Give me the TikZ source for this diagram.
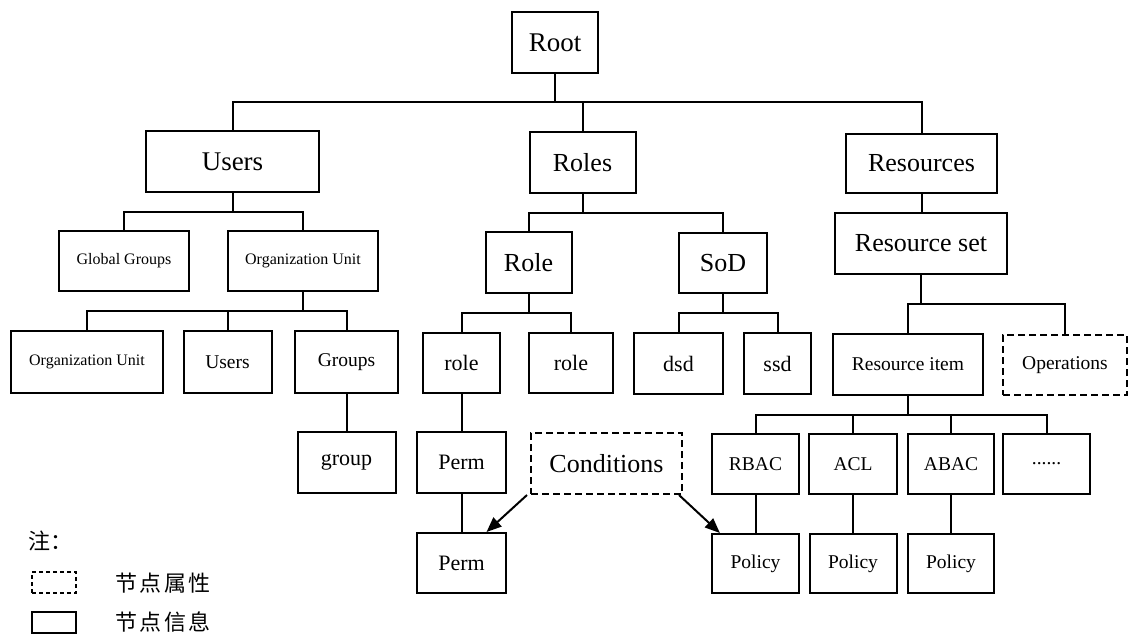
\documentclass[tikz,border=0pt]{standalone}
\usepackage{fontspec}
\setmainfont{Liberation Serif}
\newfontfamily\cjk{Noto Sans CJK SC}
\usetikzlibrary{calc,arrows.meta}

% parent -> junction bar -> child
\newcommand\fork[3]{\draw[link] (#1.south) -- (#1.south |- #2) -| (#3.north);}
\newcommand\cjkgap{\hspace{2.5pt}}

\begin{document}
\begin{tikzpicture}[x=1pt,y=-1pt,
  bx/.style 2 args={draw, line width=2pt, inner sep=0pt, minimum width=#1 pt, minimum height=#2 pt},
  attr/.style={dash pattern=on 7pt off 4pt},
  fhuge/.style={font=\fontsize{27}{32}\selectfont},
  fbig/.style={font=\fontsize{26}{31}\selectfont},
  fmid/.style={font=\fontsize{22}{26}\selectfont},
  fsml/.style={font=\fontsize{19.5}{23}\selectfont},
  ftiny/.style={font=\fontsize{16}{19}\selectfont},
  fcjk/.style={font=\cjk\fontsize{22}{26}\selectfont, inner sep=0pt},
  link/.style={line width=2pt, line join=miter},
  arr/.style={line width=2pt, -{Triangle[length=15pt,width=12pt]}}
]
\useasboundingbox (0,0) rectangle (1130,635);

% ---- top levels ----
\node[bx={86}{61}, fhuge] (root)  at (555,42.5)   {Root};
\node[bx={173}{61}, fhuge] (users) at (232.5,161.5) {Users};
\node[bx={106}{61}, fbig] (roles) at (582.5,162.5) {Roles};
\node[bx={151}{59}, fbig] (res)   at (921.5,163.5) {Resources};

% ---- users branch ----
\node[bx={130}{60}, ftiny] (gg)   at (124,261)   {Global Groups};
\node[bx={150}{60}, ftiny] (ou)   at (303,261)   {Organization Unit};
\node[bx={152}{62}, ftiny] (ou2)  at (87,362)    {Organization Unit};
\node[bx={88}{62},  fsml]  (usr2) at (227.5,362) {Users};
\node[bx={103}{62}, fsml]  (grps) at (346.5,362) {Groups};
\node[bx={98}{61},  fmid]  (grp)  at (346.5,462.5) {group};

% ---- roles branch ----
\node[bx={86}{61}, fbig] (role) at (528.5,262.5) {Role};
\node[bx={88}{60}, fbig] (sod)  at (723,263)     {SoD};
\node[bx={77}{60}, fmid] (r1)   at (461.5,363)   {role};
\node[bx={84}{60}, fmid] (r2)   at (571,363)     {role};
\node[bx={89}{61}, fmid] (dsd)  at (678.5,363.5) {dsd};
\node[bx={67}{61}, fmid] (ssd)  at (777.5,363.5) {ssd};
\node[bx={89}{61}, fmid] (perm1) at (461.5,462.5) {Perm};
\node[bx={89}{60}, fmid] (perm2) at (461.5,563)   {Perm};
\node[bx={151}{61}, fbig, attr] (cond) at (606.5,463.5) {Conditions};

% ---- resources branch ----
\node[bx={172}{61}, fbig] (rset)  at (921,243.5)  {Resource set};
\node[bx={150}{61}, fsml] (ritem) at (908,364.5)  {Resource item};
\node[bx={124}{60}, fsml, attr] (ops) at (1065,365) {Operations};
\node[bx={87}{60}, fsml] (rbac) at (755.5,464)  {RBAC};
\node[bx={88}{60}, fsml] (acl)  at (853,464)    {ACL};
\node[bx={86}{60}, fsml] (abac) at (951,464)    {ABAC};
\node[bx={87}{60}, fsml] (more) at (1046.5,464) {......};
\node[bx={87}{59}, fsml] (pol1) at (755.5,563.5) {Policy};
\node[bx={87}{59}, fsml] (pol2) at (853,563.5)   {Policy};
\node[bx={86}{59}, fsml] (pol3) at (951,563.5)   {Policy};

% ---- junction bars ----
\coordinate (jroot)  at ($(root.south)!0.5!(users.north)$);
\coordinate (jusers) at ($(users.south)!0.5!(gg.north)$);
\coordinate (jou)    at ($(ou.south)!0.5!(ou2.north)$);
\coordinate (jroles) at ($(roles.south)!0.5!(role.north)$);
\coordinate (jrole)  at ($(role.south)!0.5!(r1.north)$);
\coordinate (jsod)   at ($(sod.south)!0.5!(dsd.north)$);
\coordinate (jrset)  at ($(rset.south)!0.5!(ritem.north)$);
\coordinate (jritem) at ($(ritem.south)!0.5!(rbac.north)$);

\fork{root}{jroot}{users}
\fork{root}{jroot}{roles}
\fork{root}{jroot}{res}
\fork{users}{jusers}{gg}
\fork{users}{jusers}{ou}
\fork{ou}{jou}{ou2}
\fork{ou}{jou}{usr2}
\fork{ou}{jou}{grps}
\fork{roles}{jroles}{role}
\fork{roles}{jroles}{sod}
\fork{role}{jrole}{r1}
\fork{role}{jrole}{r2}
\fork{sod}{jsod}{dsd}
\fork{sod}{jsod}{ssd}
\fork{rset}{jrset}{ritem}
\fork{rset}{jrset}{ops}
\fork{ritem}{jritem}{rbac}
\fork{ritem}{jritem}{acl}
\fork{ritem}{jritem}{abac}
\fork{ritem}{jritem}{more}

% ---- straight links ----
\draw[link] (grps.south) -- (grps.south |- grp.north);
\draw[link] (res.south) -- (res.south |- rset.north);
\draw[link] (r1.south) -- (perm1.north);
\draw[link] (perm1.south) -- (perm2.north);
\draw[link] (rbac.south) -- (pol1.north);
\draw[link] (acl.south) -- (pol2.north);
\draw[link] (abac.south) -- (pol3.north);

% ---- condition arrows ----
\draw[arr] ($(cond.south west)+(-3,0)$) -- ($(perm2.north)!0.55!(perm2.north east)$);
\draw[arr] ($(cond.south east)+(-4,0)$) -- ($(pol1.north west)!0.1!(pol1.north east)$);

% ---- legend ----
\node[fcjk, anchor=west] (note) at (28,541) {注：};
\node[bx={44}{21}, dash pattern=on 4pt off 3pt, line width=1.8pt] (lgattr) at (54,582.5) {};
\node[fcjk, anchor=west] (lgattrtxt) at (115,583) {节\cjkgap 点\cjkgap 属\cjkgap 性};
\node[bx={44}{21}, line width=1.8pt] (lginfo) at (54,622.5) {};
\node[fcjk, anchor=west] (lginfotxt) at (115,622) {节\cjkgap 点\cjkgap 信\cjkgap 息};
\end{tikzpicture}
\end{document}
